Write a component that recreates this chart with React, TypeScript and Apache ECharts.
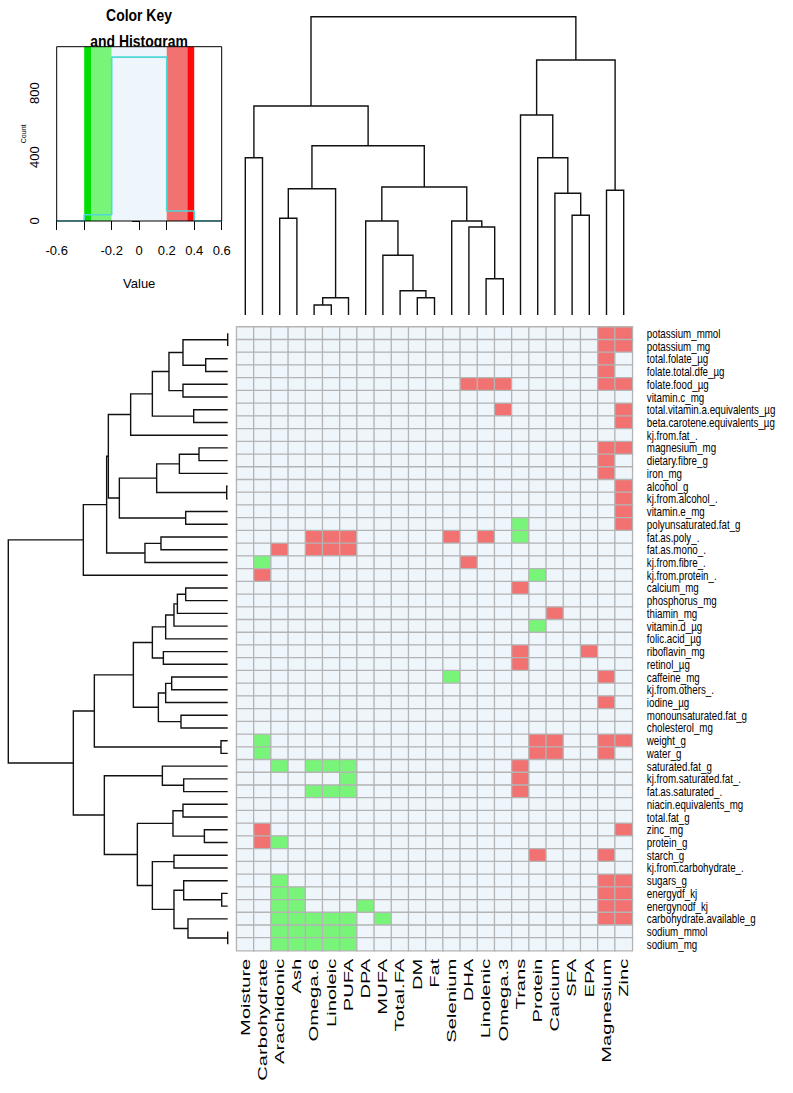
import React, { useEffect, useRef } from "react";
import * as echarts from "echarts";

// ---------- DATA ----------
const columnNames: string[] = [
  "Moisture", "Carbohydrate", "Arachidonic", "Ash", "Omega.6", "Linoleic", "PUFA", "DPA",
  "MUFA", "Total.FA", "DM", "Fat", "Selenium", "DHA", "Linolenic", "Omega.3", "Trans",
  "Protein", "Calcium", "SFA", "EPA", "Magnesium", "Zinc",
];

const rowNames: string[] = [
  "potassium_mmol", "potassium_mg", "total.folate_µg", "folate.total.dfe_µg", "folate.food_µg",
  "vitamin.c_mg", "total.vitamin.a.equivalents_µg", "beta.carotene.equivalents_µg", "kj.from.fat_.",
  "magnesium_mg", "dietary.fibre_g", "iron_mg", "alcohol_g", "kj.from.alcohol_.", "vitamin.e_mg",
  "polyunsaturated.fat_g", "fat.as.poly_.", "fat.as.mono_.", "kj.from.fibre_.", "kj.from.protein_.",
  "calcium_mg", "phosphorus_mg", "thiamin_mg", "vitamin.d_µg", "folic.acid_µg", "riboflavin_mg",
  "retinol_µg", "caffeine_mg", "kj.from.others_.", "iodine_µg", "monounsaturated.fat_g",
  "cholesterol_mg", "weight_g", "water_g", "saturated.fat_g", "kj.from.saturated.fat_.",
  "fat.as.saturated_.", "niacin.equivalents_mg", "total.fat_g", "zinc_mg", "protein_g", "starch_g",
  "kj.from.carbohydrate_.", "sugars_g", "energydf_kj", "energynodf_kj", "carbohydrate.available_g",
  "sodium_mmol", "sodium_mg",
];

// one string per row, one character per column: "+" positive, "-" negative, "." near zero
const cellPattern: string[] = [
  ".....................++",
  ".....................++",
  ".....................+.",
  ".....................+.",
  ".............+++.....++",
  ".......................",
  "...............+......+",
  "......................+",
  ".......................",
  ".....................++",
  ".....................+.",
  ".....................+.",
  "......................+",
  "......................+",
  "......................+",
  "................-.....+",
  "....+++.....+.+.-......",
  "..+.+++................",
  ".-...........+.........",
  ".+...............-.....",
  "................+......",
  ".......................",
  "..................+....",
  ".................-.....",
  ".......................",
  "................+...+..",
  "................+......",
  "............-........+.",
  ".......................",
  ".....................+.",
  ".......................",
  ".......................",
  ".-...............++..++",
  ".-...............++..+.",
  "..-.---.........+......",
  "......-.........+......",
  "....---.........+......",
  ".......................",
  ".......................",
  ".+....................+",
  ".+-....................",
  ".................+...+.",
  ".......................",
  "..-..................++",
  "..--.................++",
  "..--...-.............++",
  "..-----.-............++",
  "..-----................",
  "..-----................",
];
const cellSymbolValue: Record<string, number> = { "+": 0.3, "-": -0.3, ".": 0 };

// colour key
const keyBreaks: number[] = [-0.4, -0.35, -0.2, 0.2, 0.35, 0.4];
const keyColors: string[] = ["#00e000", "#78f578", "#eef6fc", "#f27272", "#ff0a0a"];
const histBreaks: number[] = [-0.6, -0.4, -0.2, 0.2, 0.4, 0.6];
const keyXTicks: number[] = [-0.6, -0.4, -0.2, 0, 0.2, 0.4, 0.6];
const keyXLabels: number[] = [-0.6, -0.2, 0, 0.2, 0.4, 0.6];
const keyYTicks: number[] = [0, 200, 400, 600, 800, 1000];
const keyYLabels: number[] = [0, 400, 800];
const keyCountMax = 1090;

// dendrograms, hclust style: negative = leaf (1-based, display order), positive = earlier merge
const columnMerges: [number, number, number][] = [
  [-1, -2, 1.573],
  [-3, -4, 0.967],
  [-5, -6, 0.1],
  [-7, 3, 0.173],
  [2, 4, 1.263],
  [-11, -12, 0.173],
  [-10, 6, 0.243],
  [-9, 7, 0.597],
  [-8, 8, 0.94],
  [-15, -16, 0.363],
  [-14, 10, 0.88],
  [-13, 11, 0.94],
  [9, 12, 1.28],
  [5, 13, 1.693],
  [1, 14, 2.09],
  [-20, -21, 0.997],
  [-19, 16, 1.217],
  [-18, 17, 1.573],
  [-17, 18, 2.0],
  [-22, -23, 1.247],
  [19, 20, 2.55],
  [15, 21, 2.983],
];

const rowMerges: [number, number, number][] = [
  [-1, -2, 0],
  [-3, -4, 0.22],
  [1, 2, 0.447],
  [-5, -6, 0.447],
  [3, 4, 0.587],
  [-7, -8, 0.34],
  [5, 6, 0.753],
  [7, -9, 0.97],
  [-10, -11, 0.287],
  [9, -12, 0.483],
  [-13, -14, 0.01],
  [10, 11, 0.71],
  [-15, -16, 0.42],
  [12, 13, 1.083],
  [8, 14, 1.193],
  [-17, -18, 0.667],
  [16, -19, 0.827],
  [15, 17, 1.21],
  [18, -20, 1.443],
  [-21, -22, 0.42],
  [20, -23, 0.503],
  [21, -24, 0.537],
  [22, -25, 0.62],
  [-26, -27, 0.643],
  [23, 24, 0.753],
  [-28, -29, 0.56],
  [26, -30, 0.62],
  [-31, -32, 0.467],
  [27, 28, 0.693],
  [25, 29, 0.943],
  [-33, -34, 0.067],
  [30, 31, 1.333],
  [-36, -37, 0.44],
  [-35, 33, 0.653],
  [-38, -39, 0.447],
  [-40, -41, 0.233],
  [35, 36, 0.547],
  [-42, -43, 0.537],
  [-45, -46, 0.06],
  [-44, 39, 0.44],
  [-48, -49, 0],
  [-47, 41, 0.397],
  [40, 42, 0.537],
  [38, 43, 0.753],
  [37, 44, 0.903],
  [34, 45, 1.233],
  [32, 46, 1.543],
  [19, 47, 2.193],
];

// ---------- LAYOUT ----------
const HEAT = { left: 236.7, top: 327, width: 395.6, height: 623.7 };
const TOPD = { top: 16.7, bottom: 315 };
const LEFTD = { left: 8.3, right: 227.7 };
const KEY = { left: 56.7, top: 46.7, width: 165, height: 174.3 };
const FONT = "Liberation Sans";

function dendroLinks(merges: [number, number, number][]) {
  const pos: number[] = [];
  const ht: number[] = [];
  const get = (id: number): [number, number] =>
    id < 0 ? [-id - 1 + 0.5, 0] : [pos[id - 1], ht[id - 1]];
  const links: number[][] = [];
  merges.forEach(([a, b, h], k) => {
    const [pa, ha] = get(a);
    const [pb, hb] = get(b);
    pos[k] = (pa + pb) / 2;
    ht[k] = h;
    links.push([pa, ha, pb, hb, h]);
  });
  return links;
}

export default function App() {
  const ref = useRef<HTMLDivElement>(null);

  useEffect(() => {
    if (!ref.current) return;
    const chart = echarts.init(ref.current, null, { renderer: "svg" });

    const heatData: number[][] = [];
    const allValues: number[] = [];
    cellPattern.forEach((rowStr, r) => {
      rowStr.split("").forEach((ch, c) => {
        const v = cellSymbolValue[ch];
        heatData.push([c, r, v]);
        allValues.push(v);
      });
    });

    // histogram counts from the cell values
    const counts = histBreaks.slice(0, -1).map((lo, i) => {
      const hi = histBreaks[i + 1];
      return allValues.filter((v) => v >= lo && (i === histBreaks.length - 2 ? v <= hi : v < hi)).length;
    });
    const histLine: number[][] = [];
    counts.forEach((c, i) => {
      histLine.push([histBreaks[i], c]);
      histLine.push([histBreaks[i + 1], c]);
    });

    const bands = keyColors.map((_, i) => [keyBreaks[i], keyBreaks[i + 1], i]);

    const colLinks = dendroLinks(columnMerges);
    const rowLinks = dendroLinks(rowMerges);
    const colRoot = columnMerges[columnMerges.length - 1][2];
    const rowRoot = rowMerges[rowMerges.length - 1][2];

    const hiddenAxis = { show: false, splitLine: { show: false } };

    const titleStyle = {
      fontFamily: FONT,
      fontWeight: "bold",
      fontSize: 17,
      fill: "#000",
      align: "center",
      verticalAlign: "middle",
      textAlign: "center",
      textVerticalAlign: "middle",
    };

    const option: any = {
      animation: false,
      backgroundColor: "#ffffff",
      graphic: [
        { type: "text", x: 139, y: 15, scaleX: 0.82, style: { ...titleStyle, text: "Color Key" } },
        { type: "text", x: 139, y: 41, scaleX: 0.82, style: { ...titleStyle, text: "and Histogram" } },
      ],
      visualMap: {
        type: "piecewise",
        show: false,
        seriesIndex: 0,
        dimension: 2,
        pieces: keyColors.map((color, i) => ({ min: keyBreaks[i], max: keyBreaks[i + 1], color })),
      },
      grid: [
        { left: HEAT.left, top: HEAT.top, width: HEAT.width, height: HEAT.height },
        { left: HEAT.left, top: TOPD.top, width: HEAT.width, height: TOPD.bottom - TOPD.top },
        { left: LEFTD.left, top: HEAT.top, width: LEFTD.right - LEFTD.left, height: HEAT.height },
        {
          left: KEY.left,
          top: KEY.top,
          width: KEY.width,
          height: KEY.height,
          show: true,
          z: 5,
          borderColor: "#000",
          borderWidth: 1,
          backgroundColor: "transparent",
        },
      ],
      xAxis: [
        { type: "category", gridIndex: 0, data: columnNames, ...hiddenAxis },
        { type: "value", gridIndex: 1, min: 0, max: columnNames.length, ...hiddenAxis },
        { type: "value", gridIndex: 2, min: 0, max: rowRoot, inverse: true, ...hiddenAxis },
        {
          type: "value",
          gridIndex: 3,
          min: -0.6,
          max: 0.6,
          splitLine: { show: false },
          axisLine: { show: false },
          axisTick: { show: true, length: 9, customValues: keyXTicks, lineStyle: { color: "#000" } },
          axisLabel: {
            customValues: keyXLabels,
            margin: 23,
            color: "#000",
            fontFamily: FONT,
            fontSize: 13,
            formatter: (v: number) => String(Math.round(v * 10) / 10),
          },
          name: "Value",
          nameLocation: "middle",
          nameGap: 56,
          nameTextStyle: { fontFamily: FONT, fontSize: 13, color: "#000" },
        },
      ],
      yAxis: [
        { type: "category", gridIndex: 0, data: rowNames, inverse: true, ...hiddenAxis },
        { type: "value", gridIndex: 1, min: 0, max: colRoot, ...hiddenAxis },
        { type: "value", gridIndex: 2, min: 0, max: rowNames.length, inverse: true, ...hiddenAxis },
        {
          type: "value",
          gridIndex: 3,
          min: 0,
          max: keyCountMax,
          splitLine: { show: false },
          axisLine: { show: false },
          axisTick: { show: true, length: 7, customValues: keyYTicks, lineStyle: { color: "#000" } },
          axisLabel: {
            customValues: keyYLabels,
            rotate: 90,
            margin: 16,
            color: "#000",
            fontFamily: FONT,
            fontSize: 13,
          },
          name: "Count",
          nameLocation: "middle",
          nameGap: 30,
          nameTextStyle: { fontFamily: FONT, fontSize: 7, color: "#000" },
        },
      ],
      series: [
        {
          type: "heatmap",
          xAxisIndex: 0,
          yAxisIndex: 0,
          data: heatData,
          itemStyle: { borderColor: "#b4b4b4", borderWidth: 1.3 },
          emphasis: { disabled: true },
          silent: true,
        },
        {
          type: "custom",
          xAxisIndex: 0,
          yAxisIndex: 0,
          silent: true,
          data: rowNames.map((_, i) => [columnNames.length - 1, i]),
          renderItem: (params: any, api: any) => {
            const p = api.coord([api.value(0), api.value(1)]);
            const s = api.size([1, 1]);
            return {
              type: "text",
              x: p[0] + s[0] / 2 + 14.5,
              y: p[1],
              scaleX: 0.75,
              style: {
                text: rowNames[params.dataIndex],
                fontFamily: FONT,
                fontSize: 13,
                fill: "#000",
                align: "left",
                verticalAlign: "middle",
                textAlign: "left",
                textVerticalAlign: "middle",
              },
            };
          },
        },
        {
          type: "custom",
          xAxisIndex: 0,
          yAxisIndex: 0,
          silent: true,
          data: columnNames.map((_, i) => [i, rowNames.length - 1]),
          renderItem: (params: any, api: any) => {
            const p = api.coord([api.value(0), api.value(1)]);
            const s = api.size([1, 1]);
            return {
              type: "text",
              x: p[0],
              y: p[1] + s[1] / 2 + 8,
              rotation: Math.PI / 2,
              scaleX: 1.55,
              style: {
                text: columnNames[params.dataIndex],
                fontFamily: FONT,
                fontSize: 13,
                fill: "#000",
                align: "right",
                verticalAlign: "middle",
                textAlign: "right",
                textVerticalAlign: "middle",
              },
            };
          },
        },
        {
          type: "custom",
          xAxisIndex: 1,
          yAxisIndex: 1,
          silent: true,
          data: colLinks,
          renderItem: (params: any, api: any) => {
            const a = api.value(0), ha = api.value(1), b = api.value(2), hb = api.value(3), h = api.value(4);
            return {
              type: "polyline",
              shape: { points: [api.coord([a, ha]), api.coord([a, h]), api.coord([b, h]), api.coord([b, hb])] },
              style: { stroke: "#111", lineWidth: 1.4, fill: "none" },
            };
          },
        },
        {
          type: "custom",
          xAxisIndex: 2,
          yAxisIndex: 2,
          silent: true,
          data: rowLinks,
          renderItem: (params: any, api: any) => {
            const a = api.value(0), ha = api.value(1), b = api.value(2), hb = api.value(3), h = api.value(4);
            return {
              type: "polyline",
              shape: { points: [api.coord([ha, a]), api.coord([h, a]), api.coord([h, b]), api.coord([hb, b])] },
              style: { stroke: "#111", lineWidth: 1.4, fill: "none" },
            };
          },
        },
        {
          type: "custom",
          xAxisIndex: 3,
          yAxisIndex: 3,
          silent: true,
          data: bands,
          renderItem: (params: any, api: any) => {
            const p0 = api.coord([api.value(0), keyCountMax]);
            const p1 = api.coord([api.value(1), 0]);
            return {
              type: "rect",
              shape: { x: p0[0], y: p0[1], width: p1[0] - p0[0], height: p1[1] - p0[1] },
              style: { fill: keyColors[api.value(2)] },
            };
          },
        },
        {
          type: "line",
          xAxisIndex: 3,
          yAxisIndex: 3,
          data: histLine,
          symbol: "none",
          silent: true,
          z: 4,
          lineStyle: { color: "#4fd8d8", width: 1.6 },
        },
      ],
    };

    chart.setOption(option);
    return () => chart.dispose();
  }, []);

  return (
    <div
      ref={ref}
      style={{ position: "absolute", left: 0, top: 0, width: 793, height: 1093, background: "#fff" }}
    />
  );
}
